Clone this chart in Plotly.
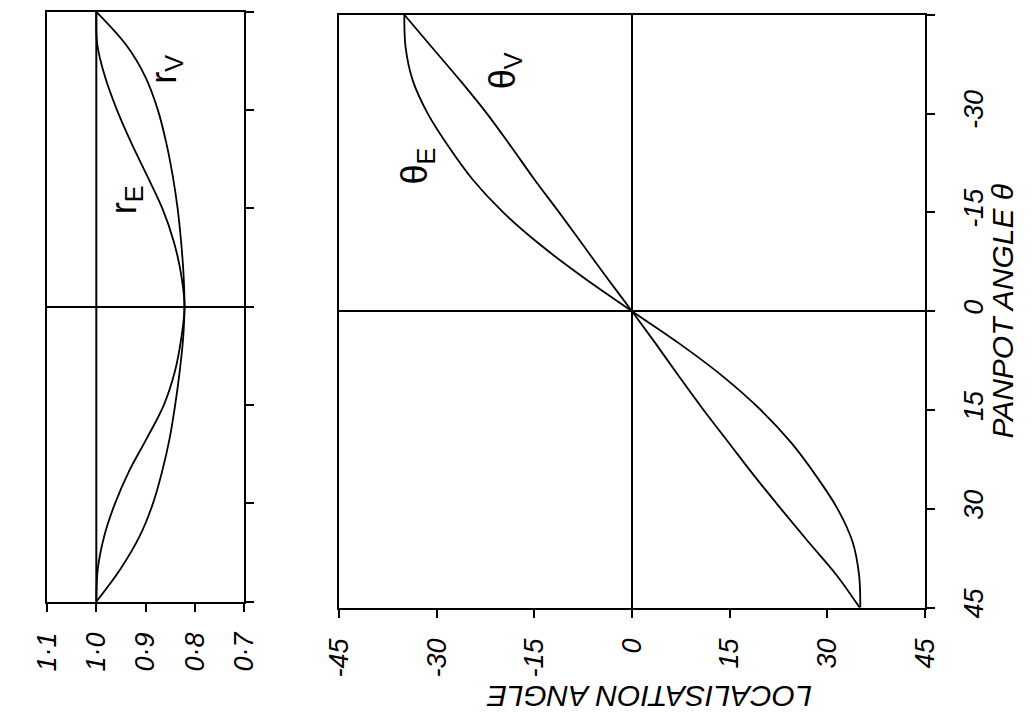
import plotly.graph_objects as go

# Panpot angle (degrees) - vertical axis in the (rotated) reference
panpot = [-45, -40, -35, -30, -25, -20, -15, -10, -5, 0, 5, 10, 15, 20, 25, 30, 35, 40, 45]

# Vector magnitudes (left panel)
r_V = [1.000, 0.940, 0.900, 0.875, 0.858, 0.845, 0.835, 0.828, 0.823, 0.821,
       0.824, 0.831, 0.840, 0.851, 0.866, 0.885, 0.912, 0.951, 1.000]
r_E = [1.000, 0.998, 0.982, 0.958, 0.929, 0.897, 0.866, 0.843, 0.828, 0.821,
       0.828, 0.841, 0.863, 0.897, 0.933, 0.962, 0.984, 0.997, 1.000]

# Localisation angles (right panel)
theta_V = [-35.0, -30.7, -26.4, -22.3, -18.6, -15.0, -11.2, -7.5, -3.8, 0.0,
           3.7, 7.3, 11.0, 14.9, 18.8, 22.9, 27.1, 31.4, 35.0]
theta_E = [-35.0, -34.8, -33.7, -31.4, -28.2, -24.5, -19.8, -14.0, -7.3, 0.0,
           7.4, 14.1, 19.8, 24.5, 28.3, 31.6, 33.9, 34.9, 35.1]

# Tick labels
r_ticks = [1.1, 1.0, 0.9, 0.8, 0.7]
r_ticktext = ["1·1", "1·0", "0·9", "0·8", "0·7"]
angle_ticks = [-45, -30, -15, 0, 15, 30, 45]
angle_ticktext = ["-45", "-30", "-15", "0", "15", "30", "45"]
r_reference = 1.0

W, H = 1031, 724
FONT = "Liberation Sans Narrow, Liberation Sans, Arial, sans-serif"
tickfont = dict(family=FONT, size=27, color="black", style="italic")
line_style = dict(color="black", width=1.8)

fig = go.Figure()
for xs, xa, ya, nm in [(r_V, "x", "y", "r_V"), (r_E, "x", "y", "r_E"),
                       (theta_V, "x2", "y2", "θ_V"), (theta_E, "x2", "y2", "θ_E")]:
    fig.add_trace(go.Scatter(x=xs, y=panpot, xaxis=xa, yaxis=ya, mode="lines", name=nm,
                             line=dict(shape="spline", smoothing=1.0, **line_style)))

common = dict(showline=True, linecolor="black", linewidth=2, mirror=True,
              showgrid=False, ticks="outside", ticklen=8, tickwidth=2, tickcolor="black",
              tickfont=tickfont)

fig.update_layout(
    width=W, height=H,
    margin=dict(l=0, r=0, t=0, b=0),
    paper_bgcolor="white", plot_bgcolor="white",
    showlegend=False,
    xaxis=dict(domain=[33 / W, 236 / W], range=[1.1, 0.7], anchor="y",
               tickvals=r_ticks, ticktext=r_ticktext, tickangle=-90,
               ticklabelstandoff=10, zeroline=False, **common),
    yaxis=dict(domain=[1 - 611 / H, 1 - 12 / H], range=[45, -45], anchor="x", side="right",
               tickvals=angle_ticks, showticklabels=False,
               zeroline=True, zerolinecolor="black", zerolinewidth=2, **common),
    xaxis2=dict(domain=[334 / W, 937 / W], range=[-45, 45], anchor="y2",
                tickvals=angle_ticks, ticktext=angle_ticktext, tickangle=-90,
                ticklabelstandoff=10,
                zeroline=True, zerolinecolor="black", zerolinewidth=2, **common),
    yaxis2=dict(domain=[1 - 617 / H, 1 - 15 / H], range=[45, -45], anchor="x2", side="right",
                tickvals=angle_ticks, ticktext=angle_ticktext, tickangle=-90,
                ticklabelstandoff=16,
                zeroline=True, zerolinecolor="black", zerolinewidth=2, **common),
)

fig.add_shape(type="line", xref="x", yref="y domain", x0=r_reference, x1=r_reference, y0=0, y1=1,
              line=dict(color="black", width=2), layer="below")

labfont = dict(family=FONT, size=36, color="black")
titlefont = dict(family=FONT, size=30, color="black", style="italic")
for txt, x, y, xr, yr in [("r<sub>V</sub>", 0.858, -36.2, "x", "y"),
                          ("r<sub>E</sub>", 0.940, -16.4, "x", "y"),
                          ("θ<sub>V</sub>", -19.6, -36.5, "x2", "y2"),
                          ("θ<sub>E</sub>", -33.0, -22.0, "x2", "y2")]:
    fig.add_annotation(text=txt, x=x, y=y, xref=xr, yref=yr, textangle=-90,
                       showarrow=False, font=labfont, xanchor="center", yanchor="middle")
fig.add_annotation(text="PANPOT ANGLE θ", x=1017 / W, y=0, xref="paper", yref="y2",
                   textangle=-90, showarrow=False, font=titlefont,
                   xanchor="center", yanchor="middle")
fig.add_annotation(text="LOCALISATION ANGLE", x=653 / W, y=1 - 707 / H, xref="paper", yref="paper",
                   textangle=180, showarrow=False, font=titlefont,
                   xanchor="center", yanchor="middle")

fig.write_html("out.html")
